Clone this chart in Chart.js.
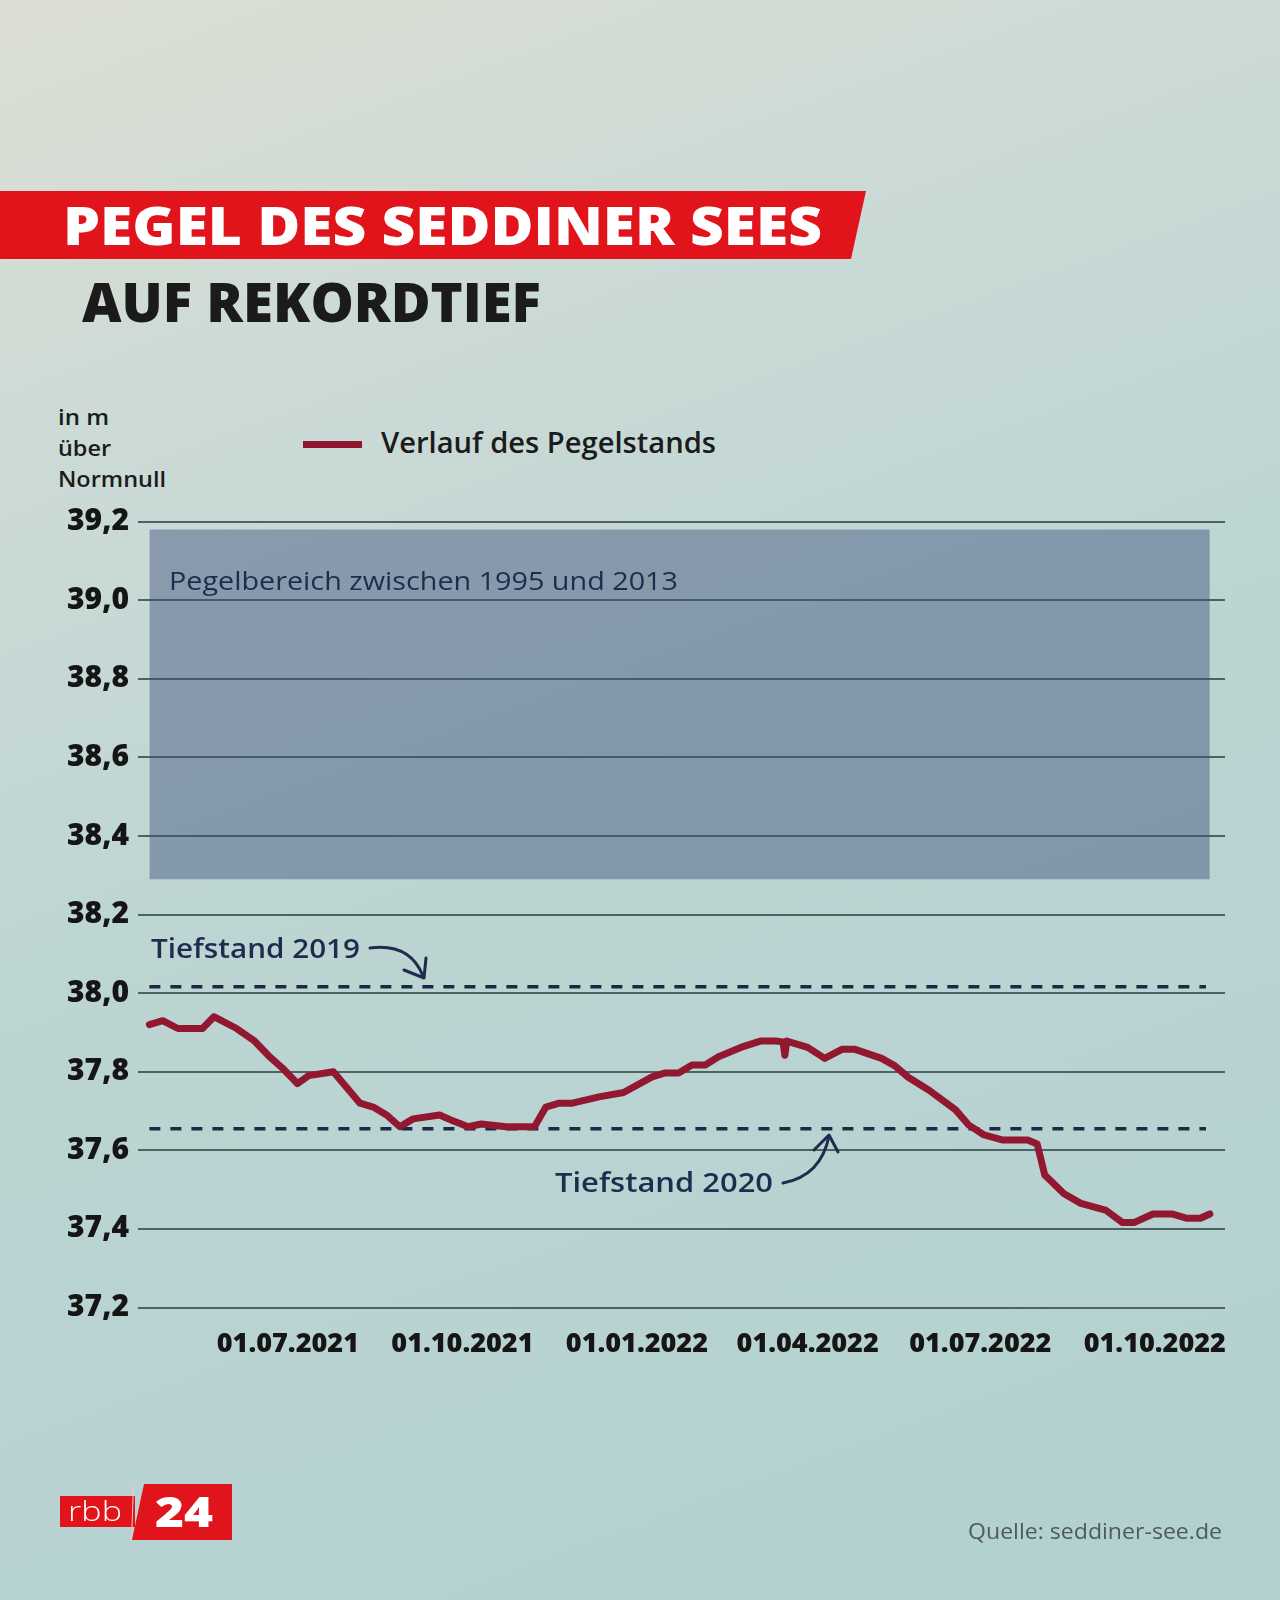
<!DOCTYPE html>
<html lang="de">
<head>
<meta charset="utf-8">
<title>Pegel des Seddiner Sees auf Rekordtief</title>
<script src="https://cdn.jsdelivr.net/npm/chart.js@4.4.1/dist/chart.umd.min.js"></script>
<style>
  html, body { margin: 0; padding: 0; }
  body {
    width: 1280px; height: 1600px; position: relative; overflow: hidden;
    font-family: "Open Sans", "DejaVu Sans", sans-serif;
    background: linear-gradient(160deg, #dcdfd3 0%, #cbdad6 25%, #bcd5d3 50%, #b2d0d0 100%);
  }
  .t { position: absolute; white-space: nowrap; line-height: 1; transform-origin: 0 0; }
  #banner { position: absolute; left: 0; top: 191px; width: 866px; height: 68px; background: #e1141c;
            clip-path: polygon(0 0, 866px 0, 851px 68px, 0 68px); }
  #chartBox { position: absolute; left: 0; top: 480px; width: 1280px; height: 900px; }
  #swatch { position: absolute; left: 303px; top: 441px; width: 59px; height: 7px; background: #8d1630; }
  #logo-rbb { position: absolute; left: 60px; top: 1496px; width: 75px; height: 31px; background: #e1141c; }
  #logo-24 { position: absolute; left: 132px; top: 1484px; width: 100px; height: 56px; background: #e1141c;
             clip-path: polygon(12px 0, 100px 0, 100px 56px, 0 56px); }
  #logo-gap { position: absolute; left: 131px; top: 1484px; width: 3px; height: 56px; background: #f3c9c4;
              clip-path: polygon(2px 0, 3px 0, 1px 56px, 0 56px); }
  svg { position: absolute; left: 0; top: 0; }
</style>
</head>
<body>
<div id="banner"></div>
<div class="t fit" data-w="759" style="left:63px;top:198px;font-size:53px;font-weight:800;color:#ffffff;">PEGEL DES SEDDINER SEES</div>
<div class="t fit" data-w="459" style="left:82px;top:274px;font-size:54px;font-weight:800;color:#1b1b1b;">AUF REKORDTIEF</div>

<div class="t fit" data-w="51" style="left:58px;top:405px;font-size:22px;font-weight:600;color:#1b1b1b;">in m</div>
<div class="t fit" data-w="53" style="left:58px;top:436px;font-size:22px;font-weight:600;color:#1b1b1b;">über</div>
<div class="t fit" data-w="108" style="left:58px;top:467px;font-size:22px;font-weight:600;color:#1b1b1b;">Normnull</div>

<div id="swatch"></div>
<div class="t fit" data-w="335" style="left:381px;top:427px;font-size:29px;font-weight:600;color:#1b1b1b;">Verlauf des Pegelstands</div>

<div id="chartBox"><canvas id="c" width="1280" height="900"></canvas></div>

<div class="t fit" data-w="509" style="left:169px;top:567px;font-size:26px;font-weight:500;color:#1f2c4e;">Pegelbereich zwischen 1995 und 2013</div>
<div class="t fit" data-w="209" style="left:151px;top:934px;font-size:27px;font-weight:600;color:#1f2c4e;">Tiefstand 2019</div>
<div class="t fit" data-w="218" style="left:555px;top:1168px;font-size:27px;font-weight:600;color:#1f2c4e;">Tiefstand 2020</div>

<svg width="1280" height="1600" viewBox="0 0 1280 1600">
  <g fill="none" stroke="#1f2c4e" stroke-width="3" stroke-linecap="round" stroke-linejoin="round">
    <path d="M370 948 Q410 943 423 976"/>
    <path d="M404 970 L424 978 L426 958"/>
    <path d="M783 1183 Q821 1176 829 1136"/>
    <path d="M814 1150 L829 1135 L838 1152"/>
  </g>
</svg>

<div id="logo-rbb"></div>
<div id="logo-24"></div>
<div id="logo-gap"></div>
<div class="t fit" data-w="54" style="left:68px;top:1497px;font-size:27px;font-weight:300;color:#ffffff;">rbb</div>
<div class="t fit" data-w="58" style="left:155px;top:1490px;font-size:42px;font-weight:800;color:#ffffff;">24</div>

<div class="t fit" data-w="254" style="left:968px;top:1521px;font-size:21px;font-weight:400;color:#4f5a5c;">Quelle: seddiner-see.de</div>

<script>
// ---- data ----
const dates = ['2021-04-19','2021-04-26','2021-05-04','2021-05-17','2021-05-23','2021-06-04','2021-06-13',
  '2021-06-21','2021-06-28','2021-07-06','2021-07-12','2021-07-25','2021-08-08','2021-08-15','2021-08-22',
  '2021-08-29','2021-09-05','2021-09-19','2021-09-26','2021-10-04','2021-10-11','2021-10-24','2021-11-08',
  '2021-11-14','2021-11-21','2021-11-28','2021-12-12','2021-12-25','2022-01-09','2022-01-16','2022-01-23',
  '2022-01-30','2022-02-06','2022-02-13','2022-02-26','2022-03-07','2022-03-15','2022-03-19','2022-03-20',
  '2022-03-21','2022-04-01','2022-04-10','2022-04-19','2022-04-26','2022-05-10','2022-05-17','2022-05-24',
  '2022-06-04','2022-06-18','2022-06-25','2022-07-03','2022-07-13','2022-07-26','2022-07-31','2022-08-04',
  '2022-08-14','2022-08-23','2022-09-05','2022-09-14','2022-09-20','2022-09-30','2022-10-10','2022-10-18',
  '2022-10-25','2022-10-30'];
const levels = [37.92,37.93,37.91,37.91,37.94,37.91,37.88,
  37.84,37.81,37.77,37.79,37.80,37.72,37.71,37.69,
  37.66,37.68,37.69,37.675,37.66,37.667,37.66,37.66,
  37.71,37.72,37.72,37.736,37.747,37.787,37.797,37.797,
  37.817,37.817,37.838,37.864,37.878,37.878,37.876,37.842,
  37.878,37.862,37.834,37.857,37.857,37.834,37.815,37.786,
  37.753,37.703,37.664,37.639,37.626,37.626,37.616,37.537,
  37.49,37.465,37.448,37.416,37.416,37.438,37.438,37.427,
  37.427,37.438];

const seriesLabel = 'Verlauf des Pegelstands';
const xTickLabels = ['01.07.2021','01.10.2021','01.01.2022','01.04.2022','01.07.2022','01.10.2022'];
const yRange = [37.2, 39.2];
const yStep = 0.2;
const axisDates = ['2021-04-13','2022-11-07'];

const bandDates = ['2021-04-19','2022-10-30'];   // Pegelbereich zwischen 1995 und 2013
const bandLevels = [38.29, 39.18];
const lowDates = ['2021-04-19','2022-10-28'];
const low2019 = [38.016, 38.016];                  // Tiefstand 2019
const low2020 = [37.655, 37.655];                  // Tiefstand 2020

// ---- helpers ----
const dayOf = s => Date.UTC(+s.slice(0,4), +s.slice(5,7)-1, +s.slice(8,10)) / 86400000;
const dayOfDE = s => Date.UTC(+s.slice(6,10), +s.slice(3,5)-1, +s.slice(0,2)) / 86400000;
const xTickValues = xTickLabels.map(dayOfDE);
const pts = (ds, vs) => ds.map((d, i) => ({ x: dayOf(d), y: vs[i] }));
const pair = (ds, v) => ds.map(d => ({ x: dayOf(d), y: v }));

const FONT = '"Open Sans", "DejaVu Sans", sans-serif';

new Chart(document.getElementById('c'), {
  type: 'line',
  data: {
    datasets: [
      { label: seriesLabel, data: pts(dates, levels), borderColor: '#921832', borderWidth: 7,
        pointRadius: 0, tension: 0, borderJoinStyle: 'round', borderCapStyle: 'round', fill: false },
      { label: 'Tiefstand 2019', data: pts(lowDates, low2019), borderColor: '#1c2844', borderWidth: 3.5,
        borderDash: [11, 10], pointRadius: 0, fill: false },
      { label: 'Tiefstand 2020', data: pts(lowDates, low2020), borderColor: '#1c2844', borderWidth: 3.5,
        borderDash: [11, 10], pointRadius: 0, fill: false },
      { label: 'band-top', data: pair(bandDates, bandLevels[1]), borderWidth: 0, pointRadius: 0,
        backgroundColor: 'rgba(62,80,122,0.46)', fill: '+1' },
      { label: 'band-bottom', data: pair(bandDates, bandLevels[0]), borderWidth: 0, pointRadius: 0, fill: false }
    ]
  },
  options: {
    responsive: false,
    animation: false,
    events: [],
    layout: { padding: { top: 41.6, right: 55, bottom: 0, left: 0 } },
    plugins: { legend: { display: false }, tooltip: { enabled: false } },
    scales: {
      x: {
        type: 'linear',
        min: dayOf(axisDates[0]),
        max: dayOf(axisDates[1]),
        grid: { display: false, drawTicks: false },
        border: { display: false },
        afterBuildTicks: s => { s.ticks = xTickValues.map(v => ({ value: v })); },
        afterFit: s => { s.height = 72.5; },
        ticks: {
          autoSkip: false, maxRotation: 0, padding: 21,
          color: '#151515', font: { family: FONT, size: 27, weight: '800' },
          callback: v => xTickLabels[xTickValues.indexOf(v)]
        }
      },
      y: {
        min: yRange[0], max: yRange[1],
        grid: { color: '#4e6361', lineWidth: 2, drawTicks: false },
        border: { display: false },
        afterFit: s => { s.width = 138; },
        ticks: {
          stepSize: yStep, padding: 9,
          color: '#151515', font: { family: FONT, size: 30, weight: '800' },
          callback: v => Number(v).toFixed(1).replace('.', ',')
        }
      }
    }
  }
});

// fit HTML text widths to the reference
document.querySelectorAll('.fit').forEach(el => {
  const w = el.getBoundingClientRect().width;
  const target = +el.dataset.w;
  if (w > 0) el.style.transform = 'scaleX(' + (target / w).toFixed(4) + ')';
});
</script>
</body>
</html>
